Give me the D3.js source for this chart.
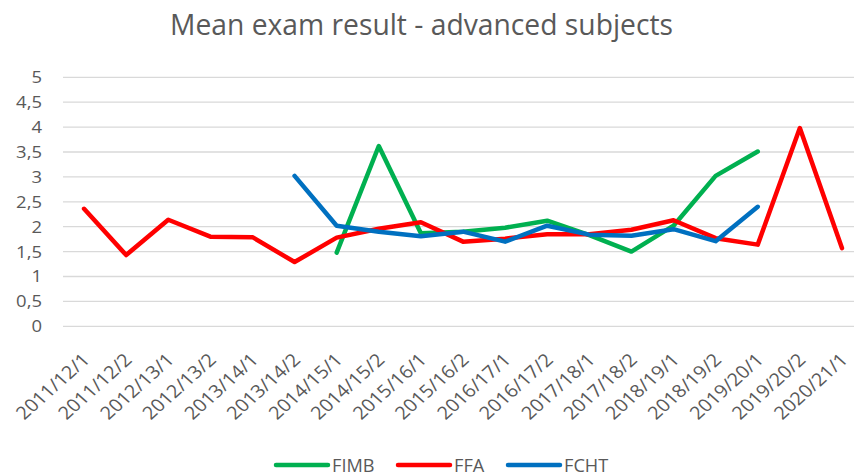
<!DOCTYPE html>
<html>
<head>
<meta charset="utf-8">
<script src="https://cdn.jsdelivr.net/npm/d3@7"></script>
<style>
  html, body { margin: 0; padding: 0; background: #fff; }
  svg { display: block; font-family: "Open Sans", sans-serif; }
</style>
</head>
<body>
<svg id="chart" width="854" height="475"></svg>
<script>
const categories = ["2011/12/1","2011/12/2","2012/13/1","2012/13/2","2013/14/1","2013/14/2","2014/15/1","2014/15/2","2015/16/1","2015/16/2","2016/17/1","2016/17/2","2017/18/1","2017/18/2","2018/19/1","2018/19/2","2019/20/1","2019/20/2","2020/21/1"];
const fimb = [null,null,null,null,null,null,1.48,3.62,1.87,1.90,1.98,2.12,1.83,1.50,2.02,3.02,3.51,null,null];
const ffa  = [2.36,1.43,2.14,1.80,1.79,1.29,1.78,1.96,2.09,1.70,1.76,1.85,1.85,1.94,2.13,1.77,1.64,3.98,1.57];
const fcht = [null,null,null,null,null,3.02,2.02,1.90,1.81,1.90,1.70,2.02,1.84,1.82,1.95,1.71,2.40,null,null];
const yTicks = [0,0.5,1,1.5,2,2.5,3,3.5,4,4.5,5];
const seriesNames = ["FIMB","FFA","FCHT"];
const seriesColors = ["#00B050","#FF0000","#0070C0"];
const seriesData = [fimb, ffa, fcht];

const svg = d3.select("#chart");
const x = d3.scaleBand().domain(categories).range([63, 863]);
const y = d3.scaleLinear().domain([0,5]).range([326.3, 77.3]);
const fmt = v => String(v).replace(".", ",");

// gridlines
svg.append("g").selectAll("line").data(yTicks).join("line")
  .attr("x1", 63).attr("x2", 863)
  .attr("y1", d => y(d)).attr("y2", d => y(d))
  .attr("stroke", "#d9d9d9").attr("stroke-width", 1.3);

// y labels
svg.append("g").selectAll("text").data(yTicks).join("text")
  .attr("transform", d => `translate(42,${y(d)}) scale(1.12,1)`)
  .attr("text-anchor", "end").attr("dy", "0.36em")
  .attr("font-size", 16.5).attr("fill", "#595959")
  .text(fmt);

// x labels
svg.append("g").selectAll("text").data(categories).join("text")
  .attr("transform", d => `translate(${x(d) + x.bandwidth()/2 + 7},361) scale(1.12,1) rotate(-45)`)
  .attr("text-anchor", "end")
  .attr("font-size", 17.8).attr("fill", "#595959")
  .text(d => d);

// lines
const line = d3.line()
  .defined(d => d.v != null)
  .x(d => x(d.c) + x.bandwidth()/2)
  .y(d => y(d.v));
seriesData.forEach((arr, i) => {
  svg.append("path")
    .datum(arr.map((v, j) => ({c: categories[j], v})))
    .attr("d", line)
    .attr("fill", "none")
    .attr("stroke", seriesColors[i])
    .attr("stroke-width", 4.5)
    .attr("stroke-linejoin", "round")
    .attr("stroke-linecap", "round");
});

// title
svg.append("text")
  .attr("x", 421.5).attr("y", 35)
  .attr("text-anchor", "middle")
  .attr("font-size", 28.5).attr("fill", "#595959")
  .attr("textLength", 503).attr("lengthAdjust", "spacingAndGlyphs")
  .text("Mean exam result - advanced subjects");

// legend
const legX = [276, 398, 508];
const legend = svg.append("g");
seriesNames.forEach((name, i) => {
  legend.append("line")
    .attr("x1", legX[i]).attr("x2", legX[i] + 52)
    .attr("y1", 465).attr("y2", 465)
    .attr("stroke", seriesColors[i]).attr("stroke-width", 4.5)
    .attr("stroke-linecap", "round");
  legend.append("text")
    .attr("x", legX[i] + 56).attr("y", 471.5)
    .attr("font-size", 18.2).attr("fill", "#595959")
    .text(name);
});
</script>
</body>
</html>
